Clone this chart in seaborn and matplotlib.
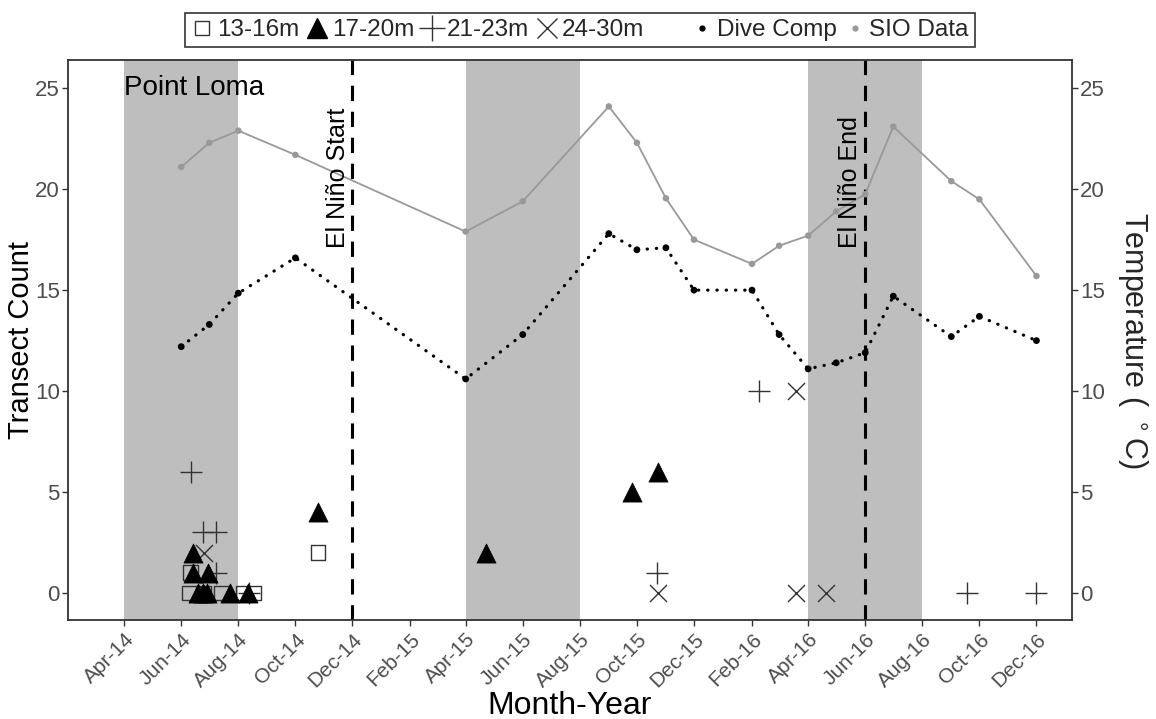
import matplotlib
matplotlib.use("Agg")
import matplotlib.pyplot as plt
from matplotlib.lines import Line2D
import seaborn as sns
import pandas as pd

# ---------------- data ----------------
temp_dates = ["2014-06-01", "2014-07-01", "2014-08-01", "2014-10-01", "2015-04-01",
              "2015-06-01", "2015-09-01", "2015-10-01", "2015-11-01", "2015-12-01",
              "2016-02-01", "2016-03-01", "2016-04-01", "2016-05-01", "2016-06-01",
              "2016-07-01", "2016-09-01", "2016-10-01", "2016-12-01"]
sio_temp = [21.1, 22.3, 22.9, 21.7, 17.9, 19.4, 24.1, 22.3, 19.55, 17.5,
            16.3, 17.2, 17.7, 18.9, 19.75, 23.1, 20.4, 19.5, 15.7]
dive_temp = [12.2, 13.3, 14.85, 16.6, 10.6, 12.8, 17.8, 17.0, 17.1, 15.0,
             15.0, 12.8, 11.1, 11.4, 11.9, 14.7, 12.7, 13.7, 12.5]

d13_dates = ["2014-06-11", "2014-06-10", "2014-06-25", "2014-07-14", "2014-08-06",
             "2014-08-18", "2014-10-25"]
d13_counts = [1, 0, 0, 0, 0, 0, 2]

d17_dates = ["2014-06-14", "2014-06-14", "2014-06-30", "2014-06-19", "2014-06-24",
             "2014-06-29", "2014-07-23", "2014-08-11", "2014-10-25", "2015-04-23",
             "2015-09-26", "2015-10-24"]
d17_counts = [2, 1, 1, 0, 0, 0, 0, 0, 4, 2, 5, 6]

d21_dates = ["2014-06-11", "2014-06-24", "2014-07-08", "2014-07-08", "2014-08-12",
             "2015-10-23", "2016-02-08", "2016-09-18", "2016-12-01"]
d21_counts = [6, 3, 3, 1, 0, 1, 10, 0, 0]

d24_dates = ["2014-06-25", "2015-10-24", "2016-03-19", "2016-03-19", "2016-04-20"]
d24_counts = [2, 0, 10, 0, 0]

season_starts = ["2014-04-01", "2015-04-01", "2016-04-01"]
season_ends = ["2014-08-01", "2015-08-01", "2016-08-01"]
event_dates = ["2014-12-01", "2016-06-01"]
event_labels = ["El Niño Start", "El Niño End"]
site_label = "Point Loma"
legend_labels = ["13-16m", "17-20m", "21-23m", "24-30m", "Dive Comp", "SIO Data"]

# ---------------- style ----------------
sns.set_theme(style="white")
plt.rcParams["font.family"] = ["Liberation Sans", "DejaVu Sans"]

fig = plt.figure(figsize=(11.56, 7.19), dpi=100)
ax = fig.add_axes([68 / 1156, 1 - 620 / 719, (1072 - 68) / 1156, (620 - 60) / 719])

temp_df = pd.DataFrame({"date": pd.to_datetime(temp_dates), "sio": sio_temp, "dive": dive_temp})

# shaded seasons
for s, e in zip(season_starts, season_ends):
    ax.axvspan(pd.Timestamp(s), pd.Timestamp(e), color="#bebebe", lw=0, zorder=0)

# event lines
for d, lab in zip(event_dates, event_labels):
    ts = pd.Timestamp(d)
    ax.axvline(ts, color="black", ls=(0, (5, 3.5)), lw=2.2, zorder=1)
    ax.text(ts - pd.Timedelta(days=3), 17.1, lab, rotation=90, ha="right", va="bottom",
            fontsize=18, color="black")

# temperature series
sns.lineplot(data=temp_df, x="date", y="sio", ax=ax, color="#999999", lw=1.3, zorder=2)
sns.scatterplot(data=temp_df, x="date", y="sio", ax=ax, color="#999999", s=22,
                edgecolor="none", zorder=3)
sns.lineplot(data=temp_df, x="date", y="dive", ax=ax, color="black", lw=2.3,
             ls=(0, (0.1, 2.8)), dash_capstyle="round", zorder=2)
sns.scatterplot(data=temp_df, x="date", y="dive", ax=ax, color="black", s=24,
                edgecolor="none", zorder=3)

# transect counts
mk = "#333333"
sns.scatterplot(x=pd.to_datetime(d13_dates), y=d13_counts, ax=ax, marker="s", s=110,
                facecolor="none", edgecolor=mk, linewidth=1.0, zorder=4)
sns.scatterplot(x=pd.to_datetime(d17_dates), y=d17_counts, ax=ax, marker="^", s=190,
                color="black", edgecolor="black", linewidth=0.5, zorder=5)
sns.scatterplot(x=pd.to_datetime(d21_dates), y=d21_counts, ax=ax, marker="+", s=240,
                color=mk, linewidth=1.0, zorder=4)
sns.scatterplot(x=pd.to_datetime(d24_dates), y=d24_counts, ax=ax, marker="x", s=150,
                color=mk, linewidth=1.0, zorder=4)

ax.text(pd.Timestamp(season_starts[0]), 25, site_label, ha="left", va="center",
        fontsize=20, color="black")

# axes
ax.set_xlim(pd.Timestamp("2014-01-31"), pd.Timestamp("2017-01-08"))
ax.set_ylim(-1.34, 26.4)
ticks = pd.date_range("2014-04-01", "2016-12-01", freq="2MS")
ax.set_xticks(ticks)
ax.set_xticklabels([t.strftime("%b-%y") for t in ticks], rotation=45, ha="right",
                   rotation_mode="anchor", fontsize=15, color="#4d4d4d")
ax.set_yticks([0, 5, 10, 15, 20, 25])
ax.tick_params(axis="y", labelsize=16, labelcolor="#4d4d4d", length=4, width=1,
               color="#333333", left=True, pad=2)
ax.tick_params(axis="x", length=4, width=1, color="#333333", bottom=True, pad=3)
ax.set_xlabel("Month-Year", fontsize=23, color="black", labelpad=0)
ax.set_ylabel("Transect Count", fontsize=21, color="black", labelpad=0)
for sp in ax.spines.values():
    sp.set_color("#333333")
    sp.set_linewidth(1.3)

ax2 = ax.twinx()
ax2.set_ylim(ax.get_ylim())
ax2.set_yticks([0, 5, 10, 15, 20, 25])
ax2.tick_params(axis="y", labelsize=16, labelcolor="#4d4d4d", length=4, width=1,
                color="#333333", right=True, pad=2)
ax2.set_ylabel("Temperature ( $^\\circ$C)", fontsize=22, rotation=270, labelpad=32)
for sp in ax2.spines.values():
    sp.set_visible(False)
ax2.grid(False)
ax.grid(False)

# legend
handles = [
    Line2D([], [], ls="none", marker="s", ms=10, mfc="none", mec=mk, mew=1),
    Line2D([], [], ls="none", marker="^", ms=14, mfc="black", mec="black"),
    Line2D([], [], ls="none", marker="+", ms=19, mec=mk, mew=1),
    Line2D([], [], ls="none", marker="x", ms=14, mec=mk, mew=1),
    Line2D([], [], ls="none", marker="", ms=0),
    Line2D([], [], ls="none", marker="o", ms=4.5, mfc="black", mec="none"),
    Line2D([], [], ls="none", marker="o", ms=4.5, mfc="#999999", mec="none"),
]
labels = legend_labels[:4] + [" "] + legend_labels[4:]
leg = fig.legend(handles, labels, loc="center", bbox_to_anchor=(580 / 1156, 1 - 30 / 719),
                 ncol=7, fontsize=17.5, frameon=True, fancybox=False, edgecolor="black",
                 handlelength=0.9, handletextpad=0.15, columnspacing=0.3,
                 borderpad=0.25, borderaxespad=0)
leg.get_frame().set_linewidth(1.2)

fig.savefig("out.png", dpi=100)
